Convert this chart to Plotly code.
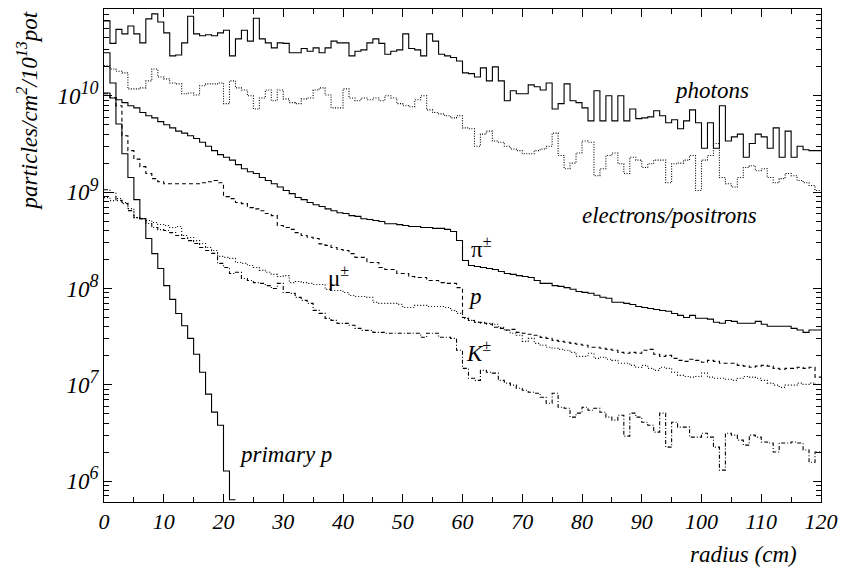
import math
import plotly.graph_objects as go

# bin edges of the radius histograms (cm)
radius_edges = list(range(0, 121))

photons = [6.0e10, 3.5e10, 4.9e10, 4.4e10, 5.3e10, 4.4e10, 3.55e10, 6.3e10, 7.1e10, 5.85e10,
           4.5e10, 2.6e10, 2.65e10, 3.55e10, 6.7e10, 4.4e10, 4.2e10, 4.3e10, 4.2e10, 4.5e10,
           4.8e10, 2.6e10, 3.9e10, 4.8e10, 3.7e10, 6.4e10, 3.9e10, 3.55e10, 3.15e10, 3.55e10,
           3.5e10, 2.8e10, 2.8e10, 3.1e10, 2.9e10, 3.15e10, 2.8e10, 3.15e10, 3.7e10, 3.55e10,
           3.55e10, 2.6e10, 2.9e10, 3.0e10, 3.55e10, 3.9e10, 3.5e10, 2.7e10, 2.9e10, 3.0e10,
           4.4e10, 3.1e10, 3.0e10, 2.6e10, 4.4e10, 3.7e10, 2.7e10, 2.6e10, 2.5e10, 2.3e10,
           1.73e10, 1.7e10, 1.57e10, 1.95e10, 1.43e10, 2.0e10, 1.43e10, 8.9e9, 1.13e10, 1.05e10,
           1.05e10, 1.3e10, 1.24e10, 1.15e10, 1.36e10, 7.3e9, 8.3e9, 1.33e10, 8.9e9, 8.5e9,
           7.5e9, 5.5e9, 1.13e10, 5.5e9, 1.0e10, 5.5e9, 1.0e10, 5.5e9, 7.3e9, 5.8e9,
           5.9e9, 6.05e9, 7.0e9, 6.2e9, 5.25e9, 5.65e9, 4.55e9, 5.5e9, 7.15e9, 5.25e9,
           2.85e9, 5.25e9, 2.85e9, 7.9e9, 3.4e9, 3.75e9, 4.0e9, 2.3e9, 3.2e9, 4.0e9,
           3.75e9, 2.85e9, 4.65e9, 2.3e9, 4.3e9, 2.3e9, 3.0e9, 2.75e9, 2.7e9, 2.7e9]

electrons = [2.05e10, 1.9e10, 1.8e10, 1.73e10, 1.18e10, 1.18e10, 1.21e10, 1.43e10, 1.9e10, 1.57e10,
             1.5e10, 1.36e10, 1.33e10, 1.05e10, 1.07e10, 1.02e10, 1.27e10, 1.33e10, 1.33e10, 1.36e10,
             8.3e9, 1.43e10, 1.21e10, 1.15e10, 1.0e10, 7.3e9, 9.5e9, 1.15e10, 8.9e9, 1.15e10,
             9.3e9, 8.5e9, 8.3e9, 9.3e9, 9.5e9, 1.15e10, 1.21e10, 1.02e10, 7.5e9, 7.5e9,
             1.18e10, 9.5e9, 8.9e9, 9.5e9, 9.1e9, 9.5e9, 8.9e9, 1.0e10, 9.5e9, 8.3e9,
             7.9e9, 7.7e9, 9.1e9, 1.0e10, 7.15e9, 6.7e9, 6.5e9, 6.2e9, 5.9e9, 6.2e9,
             4.65e9, 4.55e9, 3.0e9, 4.0e9, 4.3e9, 3.4e9, 3.3e9, 3.0e9, 2.8e9, 2.7e9,
             2.5e9, 2.5e9, 2.7e9, 2.8e9, 3.0e9, 4.1e9, 2.4e9, 1.75e9, 2.0e9, 2.55e9,
             3.4e9, 3.3e9, 1.48e9, 1.75e9, 2.4e9, 2.55e9, 1.97e9, 1.56e9, 2.3e9, 2.15e9,
             1.8e9, 1.97e9, 2.15e9, 2.15e9, 1.25e9, 1.97e9, 2.0e9, 2.15e9, 2.4e9, 1.04e9,
             2.15e9, 2.4e9, 3.2e9, 1.42e9, 1.22e9, 1.13e9, 1.42e9, 1.8e9, 1.88e9, 1.67e9,
             1.75e9, 1.42e9, 1.25e9, 1.38e9, 1.56e9, 1.48e9, 1.32e9, 1.25e9, 1.17e9, 1.04e9]

pions = [1.07e10, 9.5e9, 9.1e9, 8.5e9, 7.9e9, 7.5e9, 6.7e9, 6.2e9, 5.9e9, 5.4e9,
         5.0e9, 4.65e9, 4.3e9, 4.1e9, 3.85e9, 3.6e9, 3.3e9, 3.0e9, 2.7e9, 2.45e9,
         2.3e9, 2.15e9, 1.93e9, 1.75e9, 1.63e9, 1.56e9, 1.42e9, 1.32e9, 1.22e9, 1.13e9,
         1.04e9, 9.65e8, 8.8e8, 8.35e8, 7.8e8, 7.4e8, 7.1e8, 6.7e8, 6.4e8, 6.1e8,
         6.0e8, 5.7e8, 5.6e8, 5.3e8, 5.2e8, 5.07e8, 4.95e8, 4.7e8, 4.7e8, 4.6e8,
         4.5e8, 4.4e8, 4.4e8, 4.3e8, 4.3e8, 4.2e8, 4.2e8, 4.1e8, 3.9e8, 3.15e8,
         1.95e8, 1.73e8, 1.69e8, 1.65e8, 1.61e8, 1.57e8, 1.5e8, 1.43e8, 1.4e8, 1.36e8,
         1.33e8, 1.3e8, 1.21e8, 1.13e8, 1.13e8, 1.07e8, 1.05e8, 1.02e8, 9.8e7, 9.3e7,
         9.1e7, 8.9e7, 8.5e7, 8.1e7, 7.9e7, 7.2e7, 7.2e7, 7.0e7, 6.8e7, 6.5e7,
         6.35e7, 6.2e7, 6.05e7, 5.9e7, 5.8e7, 5.5e7, 5.25e7, 5.0e7, 5.25e7, 4.9e7,
         4.9e7, 4.8e7, 4.45e7, 4.35e7, 4.65e7, 4.55e7, 4.35e7, 4.35e7, 4.35e7, 4.55e7,
         4.25e7, 4.05e7, 4.05e7, 4.05e7, 4.05e7, 3.85e7, 3.7e7, 3.5e7, 3.7e7, 3.7e7]

protons = [1.05e10, 9.6e9, 7.9e9, 3.85e9, 2.7e9, 2.2e9, 1.84e9, 1.56e9, 1.38e9, 1.28e9,
           1.22e9, 1.22e9, 1.22e9, 1.22e9, 1.22e9, 1.22e9, 1.25e9, 1.28e9, 1.32e9, 1.25e9,
           8.99e8, 8.57e8, 7.8e8, 7.6e8, 6.9e8, 6.7e8, 6.4e8, 6.0e8, 5.7e8, 4.5e8,
           4.3e8, 4.1e8, 3.8e8, 3.55e8, 3.4e8, 3.3e8, 2.9e8, 2.8e8, 2.66e8, 2.54e8,
           2.48e8, 2.3e8, 2.1e8, 2.1e8, 1.86e8, 1.86e8, 1.65e8, 1.57e8, 1.57e8, 1.43e8,
           1.43e8, 1.33e8, 1.3e8, 1.3e8, 1.21e8, 1.21e8, 1.15e8, 1.13e8, 1.13e8, 1.02e8,
           5.0e7, 4.65e7, 4.45e7, 4.35e7, 4.25e7, 3.95e7, 3.85e7, 3.7e7, 3.76e7, 3.5e7,
           3.42e7, 3.34e7, 3.26e7, 3.1e7, 3.03e7, 2.89e7, 2.82e7, 2.76e7, 2.69e7, 2.63e7,
           2.57e7, 2.45e7, 2.45e7, 2.39e7, 2.33e7, 2.28e7, 2.17e7, 2.12e7, 2.17e7, 2.12e7,
           2.28e7, 2.33e7, 2.07e7, 1.97e7, 2.02e7, 1.88e7, 1.79e7, 1.75e7, 1.84e7, 1.79e7,
           1.71e7, 1.79e7, 1.75e7, 1.67e7, 1.67e7, 1.67e7, 1.59e7, 1.56e7, 1.52e7, 1.56e7,
           1.59e7, 1.56e7, 1.48e7, 1.45e7, 1.48e7, 1.48e7, 1.52e7, 1.48e7, 1.52e7, 1.2e7]

muons = [8.77e8, 8.17e8, 8.57e8, 7.78e8, 6.74e8, 5.44e8, 5.31e8, 5.07e8, 4.83e8, 4.61e8,
         4.5e8, 4.29e8, 4.39e8, 3.54e8, 3.38e8, 3.14e8, 2.93e8, 2.66e8, 2.48e8, 2.15e8,
         2.1e8, 2.05e8, 1.86e8, 1.82e8, 1.73e8, 1.65e8, 1.54e8, 1.47e8, 1.4e8, 1.33e8,
         1.36e8, 1.15e8, 1.18e8, 1.15e8, 1.13e8, 1.1e8, 1.1e8, 9.77e7, 9.53e7, 9.53e7,
         9.09e7, 8.46e7, 8.26e7, 8.26e7, 8.07e7, 7.16e7, 7.0e7, 7.0e7, 7.0e7, 6.83e7,
         6.35e7, 6.35e7, 6.67e7, 6.67e7, 6.5e7, 6.5e7, 6.5e7, 6.35e7, 5.92e7, 5.51e7,
         4.89e7, 4.66e7, 4.44e7, 4.44e7, 4.34e7, 4.24e7, 3.94e7, 3.67e7, 3.42e7, 3.26e7,
         2.82e7, 3.03e7, 2.69e7, 2.57e7, 2.45e7, 2.39e7, 2.33e7, 2.28e7, 2.17e7, 1.97e7,
         1.97e7, 2.12e7, 1.88e7, 1.93e7, 1.84e7, 1.79e7, 1.67e7, 1.67e7, 1.59e7, 1.52e7,
         1.59e7, 1.48e7, 1.41e7, 1.52e7, 1.48e7, 1.35e7, 1.25e7, 1.22e7, 1.2e7, 1.22e7,
         1.32e7, 1.2e7, 1.17e7, 1.17e7, 1.14e7, 1.11e7, 1.17e7, 1.22e7, 1.2e7, 1.17e7,
         1.11e7, 1.04e7, 9.9e6, 9.4e6, 9.9e6, 9.9e6, 1.04e7, 1.01e7, 1.04e7, 1.01e7]

kaons = [1.06e9, 9.9e8, 8.17e8, 7.6e8, 6.43e8, 5.44e8, 5.31e8, 4.72e8, 4.29e8, 4.08e8,
         3.99e8, 3.8e8, 3.54e8, 3.3e8, 3.14e8, 2.93e8, 2.66e8, 2.48e8, 2.31e8, 1.82e8,
         1.65e8, 1.43e8, 1.47e8, 1.27e8, 1.21e8, 1.15e8, 1.13e8, 1.07e8, 1.0e8, 1.13e8,
         9.09e7, 8.88e7, 8.07e7, 7.51e7, 7.0e7, 5.92e7, 5.51e7, 4.89e7, 4.66e7, 4.34e7,
         4.34e7, 4.14e7, 3.85e7, 3.67e7, 3.67e7, 3.5e7, 3.5e7, 3.42e7, 3.42e7, 3.42e7,
         3.42e7, 3.42e7, 3.42e7, 3.11e7, 3.42e7, 3.42e7, 3.11e7, 3.11e7, 3.03e7, 2.28e7,
         1.48e7, 1.17e7, 1.11e7, 1.41e7, 1.35e7, 1.32e7, 1.11e7, 1.04e7, 9.9e6, 9.2e6,
         8.77e6, 8.36e6, 8.17e6, 7.42e6, 6.43e6, 8.17e6, 5.84e6, 5.7e6, 4.61e6, 5.07e6,
         5.84e6, 5.44e6, 5.7e6, 5.19e6, 4.61e6, 4.29e6, 4.83e6, 2.93e6, 5.07e6, 4.61e6,
         4.08e6, 3.8e6, 3.22e6, 5.07e6, 2.25e6, 4.08e6, 3.63e6, 3.63e6, 2.86e6, 2.86e6,
         3.14e6, 2.86e6, 2.25e6, 1.3e6, 3.14e6, 3.0e6, 2.66e6, 2.36e6, 3.0e6, 2.86e6,
         2.54e6, 2.48e6, 2.0e6, 2.48e6, 2.48e6, 2.54e6, 2.48e6, 2.1e6, 1.57e6, 2.0e6]

primary_p = [2.8e10, 1.36e10, 5.1e9, 2.5e9, 1.42e9, 8.35e8, 5.3e8, 3.3e8, 2.3e8, 1.61e8,
             1.07e8, 7.7e7, 5.5e7, 4.1e7, 3.03e7, 2.07e7, 1.35e7, 8.0e6, 5.2e6, 3.8e6,
             1.27e6, 6.4e5]

y_tick_vals = [1e6, 1e7, 1e8, 1e9, 1e10]
y_tick_exps = ["6", "7", "8", "9", "10"]
x_tick_vals = list(range(0, 121, 10))

FONT = "Liberation Serif, Times New Roman, Times, serif"

y_tick_text = ["10<sup><span style='font-size:18px'>%s</span></sup>" % e for e in y_tick_exps]


def step_trace(vals, dash):
    x = radius_edges[:len(vals) + 1]
    y = list(vals) + [vals[-1]]
    return go.Scatter(x=x, y=y, mode="lines",
                      line=dict(shape="hv", dash=dash, width=1.1, color="black"),
                      hoverinfo="skip", showlegend=False)


fig = go.Figure()
fig.add_trace(step_trace(electrons, "1px,1.5px"))
fig.add_trace(step_trace(muons, "1px,2px"))
fig.add_trace(step_trace(kaons, "4px,2px,1px,2px"))
fig.add_trace(step_trace(protons, "4px,3px"))
fig.add_trace(step_trace(photons, "solid"))
fig.add_trace(step_trace(pions, "solid"))
fig.add_trace(step_trace(primary_p, "solid"))

minor_y = []
for k in range(5, 11):
    for m in range(2, 10):
        minor_y.append(m * 10 ** k)

fig.update_layout(
    width=846, height=571,
    margin=dict(l=104, r=21, t=8, b=69),
    plot_bgcolor="white", paper_bgcolor="white",
    font=dict(family=FONT, color="black", size=22),
    xaxis=dict(range=[0, 120], tickmode="array", tickvals=x_tick_vals,
               ticks="inside", ticklen=8, tickwidth=1, tickcolor="black",
               showline=True, linecolor="black", linewidth=1, mirror="ticks",
               showgrid=False, zeroline=False,
               tickfont=dict(family=FONT, size=22, style="italic"),
               minor=dict(ticks="inside", ticklen=5, tickwidth=1, tickcolor="black",
                          dtick=5, tick0=0, showgrid=False)),
    yaxis=dict(type="log", range=[5.7825, 10.9015], tickmode="array",
               tickvals=y_tick_vals, ticktext=y_tick_text,
               ticks="inside", ticklen=8, tickwidth=1, tickcolor="black",
               showline=True, linecolor="black", linewidth=1, mirror="ticks",
               showgrid=False, zeroline=False,
               tickfont=dict(family=FONT, size=23, style="italic"),
               minor=dict(ticks="inside", ticklen=5, tickwidth=1, tickcolor="black",
                          tickmode="array", tickvals=minor_y, showgrid=False)),
)

labels = [
    ("<i>photons</i>", 101.7, 1.13e10),
    ("<i>electrons/positrons</i>", 94.7, 5.7e8),
    ("π<sup>±</sup>", 63.2, 2.66e8),
    ("μ<sup>±</sup>", 39.3, 1.33e8),
    ("<i>p</i>", 62.1, 8.26e7),
    ("<i>K</i><sup>±</sup>", 62.7, 2.2e7),
    ("<i>primary p</i>", 30.3, 1.9e6),
]
for text, xv, yv in labels:
    fig.add_annotation(x=xv, y=math.log10(yv), xref="x", yref="y", text=text,
                       showarrow=False, font=dict(family=FONT, size=23, color="black"),
                       xanchor="center", yanchor="middle")

fig.add_annotation(x=-0.106, y=1.0, xref="paper", yref="paper",
                   text="<i>particles/cm<sup>2</sup>/10<sup>13</sup>pot</i>",
                   textangle=-90, showarrow=False, xanchor="center", yanchor="top",
                   font=dict(family=FONT, size=23, color="black"))
fig.add_annotation(x=0.9695, y=-0.107, xref="paper", yref="paper",
                   text="<i>radius (cm)</i>", showarrow=False,
                   xanchor="right", yanchor="middle",
                   font=dict(family=FONT, size=23, color="black"))

fig.write_html("out.html")
